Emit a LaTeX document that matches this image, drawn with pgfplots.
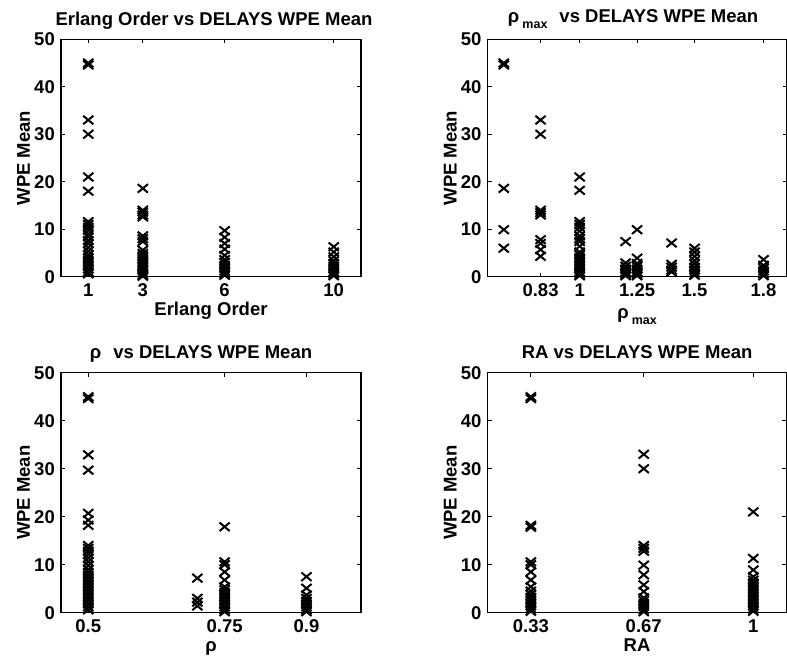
\documentclass[border=0pt]{standalone}
\usepackage{fontspec}
\setmainfont{Liberation Sans}
\usepackage{pgfplots}
\pgfplotsset{compat=1.18}

\newcommand{\lbl}{\fontsize{18.5}{21}\selectfont\bfseries}
\newcommand{\sub}[1]{\raisebox{-6pt}{\fontsize{12.5}{13}\selectfont #1}}

\pgfplotsset{
  wpe/.style={
    scale only axis,
    width=300pt,
    ymin=0, ymax=50,
    ytick={0,10,...,50},
    yticklabels={0,10,20,30,40,50},
    tick align=inside,
    major tick length=4pt,
    axis line style={line width=1.4pt},
    every tick/.style={black, line width=1.2pt},
    tick label style={font=\lbl},
    /pgf/number format/assume math mode=true,
    xticklabel style={anchor=base, yshift=-20pt, inner sep=0pt},
    yticklabel style={anchor=east, xshift=-6pt, inner sep=0pt},
    label style={font=\lbl},
    xlabel style={at={(axis description cs:0.5,0)}, anchor=base, yshift=-39pt},
    ylabel style={at={(axis description cs:-0.125,0.5)}, anchor=center},
    every axis title shift=0pt,
    title style={font=\lbl, at={(axis description cs:0.5,1)}, anchor=base, yshift=14pt},
    clip=false,
    ylabel={WPE Mean},
  },
  xpts/.style={only marks, mark=x, mark size=6pt, line width=2pt, black,
    mark options={xscale=1.2}},
}

\begin{document}
\begin{tikzpicture}
\useasboundingbox (0,0) rectangle (787pt,661pt);

% Erlang order
\begin{axis}[wpe, at={(61pt,384.3pt)}, anchor=south west, height=237.4pt,
  xmin=0, xmax=11, xtick={1,3,6,10}, xticklabels={1,3,6,10},
  xlabel={Erlang Order}, title={Erlang Order vs DELAYS WPE Mean},
  title style={xshift=3pt}]
\addplot[xpts] coordinates {
 (1,45.0) (1,44.6) (1,33) (1,30) (1,21) (1,18) (1,11.6) (1,11) (1,10.4) (1,9.8)
 (1,9) (1,8.4) (1,7.6) (1,7) (1,6.2) (1,5.4) (1,4.6) (1,4) (1,3.4) (1,2.8)
 (1,2.2) (1,1.6) (1,1) (1,0.6)
 (3,18.6) (3,14) (3,13.6) (3,13) (3,12.6) (3,8.6) (3,8) (3,7.4) (3,5.6) (3,4.9)
 (3,4.4) (3,3.8) (3,3.2) (3,2.6) (3,2) (3,1.4) (3,0.8) (3,0.4) (3,0.1)
 (6,9.7) (6,8.3) (6,7) (6,5.8) (6,4.5) (6,3.6) (6,3) (6,2.4) (6,1.8) (6,1.2)
 (6,0.7) (6,0.3)
 (10,6.3) (10,5.2) (10,4.2) (10,3.4) (10,2.8) (10,2.2) (10,1.6) (10,1) (10,0.5) (10,0.2)
};
\end{axis}

% rho_max
\begin{axis}[wpe, at={(487.7pt,384.3pt)}, anchor=south west, width=298.8pt, height=237.4pt,
  xmin=0.6, xmax=1.9, xtick={0.83,1,1.25,1.5,1.8}, xticklabels={0.83,1,1.25,1.5,1.8},
  xlabel={ρ\,\sub{max}}, xlabel style={yshift=-3pt},
  title={ρ\,\sub{max}\hspace{12pt}vs DELAYS WPE Mean}, title style={yshift=3pt, xshift=-4pt}]
\addplot[xpts] coordinates {
 (0.67,45) (0.67,44.6) (0.67,18.6) (0.67,9.9) (0.67,6)
 (0.83,33) (0.83,30) (0.83,14) (0.83,13.5) (0.83,13) (0.83,7.8) (0.83,7) (0.83,5.7) (0.83,4.3)
 (1,21) (1,18.2) (1,11.6) (1,11) (1,10.4) (1,9.6) (1,8.6) (1,8) (1,7.4) (1,6.4)
 (1,5.2) (1,4.6) (1,4) (1,3.4) (1,2.8) (1,2.2) (1,1.6) (1,1) (1,0.5) (1,0.2)
 (1.2,7.4) (1.2,2.9) (1.2,2.2) (1.2,1.6) (1.2,1) (1.2,0.5) (1.2,0.2)
 (1.25,9.9) (1.25,3.9) (1.25,2.8) (1.25,2.2) (1.25,1.6) (1.25,1) (1.25,0.5) (1.25,0.2)
 (1.4,7.1) (1.4,2.6) (1.4,2) (1.4,1.4) (1.4,1)
 (1.5,6) (1.5,5.2) (1.5,4.3) (1.5,3.4) (1.5,2.7) (1.5,2) (1.5,1.4) (1.5,0.8) (1.5,0.3)
 (1.8,3.6) (1.8,2.4) (1.8,1.8) (1.8,1.2) (1.8,0.6) (1.8,0.2)
};
\end{axis}

% rho
\begin{axis}[wpe, at={(61pt,48.3pt)}, anchor=south west, height=240pt,
  xmin=0.45, xmax=1.0, xtick={0.5,0.75,0.9}, xticklabels={0.5,0.75,0.9},
  xlabel={ρ}, title={ρ\hspace{12pt}vs DELAYS WPE Mean}, title style={xshift=-10pt}]
\addplot[xpts] coordinates {
 (0.5,45) (0.5,44.6) (0.5,32.9) (0.5,29.7) (0.5,20.7) (0.5,19.3) (0.5,18.2) (0.5,14)
 (0.5,13.4) (0.5,12.8) (0.5,12.2) (0.5,11.4) (0.5,10.6) (0.5,9.8) (0.5,9) (0.5,8.4)
 (0.5,7.8) (0.5,7.2) (0.5,6.6) (0.5,6) (0.5,5.4) (0.5,4.8) (0.5,4.2) (0.5,3.6)
 (0.5,3) (0.5,2.4) (0.5,1.8) (0.5,1.2) (0.5,0.6)
 (0.7,7.2) (0.7,3) (0.7,2.2) (0.7,1.4)
 (0.75,17.9) (0.75,10.6) (0.75,10) (0.75,8.5) (0.75,6.8) (0.75,5.4) (0.75,4.8) (0.75,4.2)
 (0.75,3.6) (0.75,3) (0.75,2.4) (0.75,1.8) (0.75,1.2) (0.75,0.6) (0.75,0.2)
 (0.9,7.5) (0.9,5.1) (0.9,3.7) (0.9,3) (0.9,2.4) (0.9,1.8) (0.9,1.2) (0.9,0.6) (0.9,0.2)
};
\end{axis}

% RA
\begin{axis}[wpe, at={(487.7pt,48.3pt)}, anchor=south west, width=298.8pt, height=240pt,
  xmin=0.2, xmax=1.1, xtick={0.33,0.67,1}, xticklabels={0.33,0.67,1},
  xlabel={RA}, title={RA vs DELAYS WPE Mean}]
\addplot[xpts] coordinates {
 (0.33,45) (0.33,44.6) (0.33,18.2) (0.33,17.8) (0.33,10.6) (0.33,10) (0.33,8.5) (0.33,6.8)
 (0.33,5.4) (0.33,4.5) (0.33,3.8) (0.33,3.2) (0.33,2.6) (0.33,2) (0.33,1.4) (0.33,0.8) (0.33,0.3)
 (0.67,33) (0.67,30) (0.67,14) (0.67,13.4) (0.67,12.8) (0.67,9.9) (0.67,7.9) (0.67,5.8)
 (0.67,4.4) (0.67,3.1) (0.67,2.5) (0.67,1.9) (0.67,1.3) (0.67,0.7) (0.67,0.2)
 (1,21) (1,11.3) (1,8.9) (1,7.5) (1,6.8) (1,6.2) (1,5.6) (1,5) (1,4.4) (1,3.8)
 (1,3.2) (1,2.6) (1,2) (1,1.4) (1,0.8) (1,0.3)
};
\end{axis}
\end{tikzpicture}
\end{document}
